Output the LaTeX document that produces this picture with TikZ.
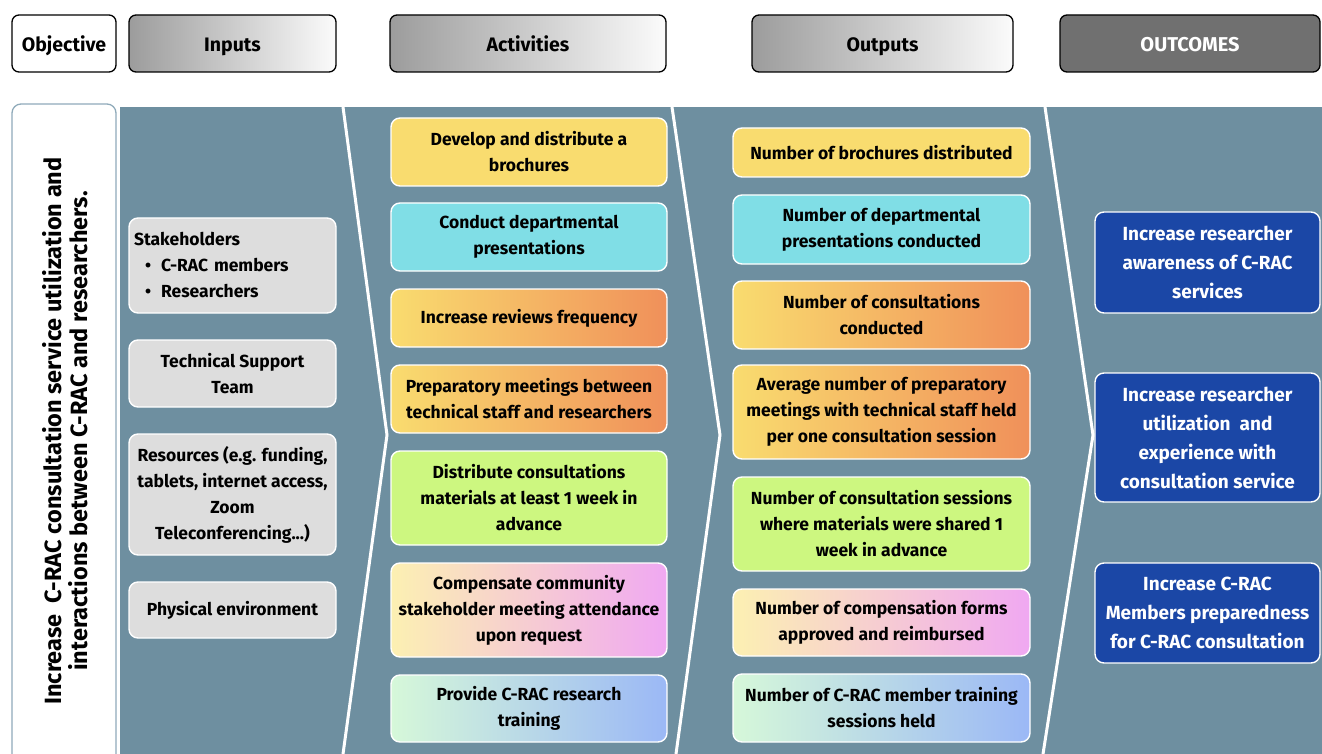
\documentclass[tikz,border=0pt]{standalone}
\usepackage{fontspec}
\setmainfont{Fira Sans}
\definecolor{panel}{HTML}{6E8FA0}
\definecolor{objline}{HTML}{8FAABA}
\definecolor{hdrL}{HTML}{9C9C9C}
\definecolor{hdrR}{HTML}{FBFBFB}
\definecolor{hdrDark}{HTML}{707070}
\definecolor{inGray}{HTML}{DDDDDD}
\definecolor{cYellow}{HTML}{F9DC6F}
\definecolor{cCyan}{HTML}{80DEE6}
\definecolor{cOrange}{HTML}{F0905A}
\definecolor{cLime}{HTML}{CDF780}
\definecolor{cPale}{HTML}{FCF0B2}
\definecolor{cPink}{HTML}{F0A8F2}
\definecolor{cMint}{HTML}{D6F8D9}
\definecolor{cBlue}{HTML}{9BB8F6}
\definecolor{outBlue}{HTML}{1B47A6}
\tikzset{
  hdr/.style={draw=black, line width=1.3pt, rounded corners=7pt,
    left color=hdrL, right color=hdrR, minimum height=57pt, inner sep=0pt,
    text height=20pt, text depth=4pt,
    font=\fontsize{19.5}{22}\selectfont\bfseries},
  card/.style={draw=white, line width=1.4pt, rounded corners=9pt, align=center,
    inner sep=0pt, text=black, font=\fontsize{17.5}{26}\selectfont\bfseries},
  inbox/.style={card, fill=inGray, minimum width=207pt},
  actbox/.style={card, minimum width=276pt},
  outbox/.style={card, minimum width=297pt},
  resbox/.style={card, fill=outBlue, text=white, minimum width=225pt,
    font=\fontsize{19}{29}\selectfont\bfseries},
  yellowbox/.style={fill=cYellow},
  cyanbox/.style={fill=cCyan},
  warmbox/.style={left color=cYellow, right color=cOrange},
  limebox/.style={fill=cLime},
  pinkbox/.style={left color=cPale, right color=cPink},
  coolbox/.style={left color=cMint, right color=cBlue},
  divider/.style={draw=white, line width=3pt, line join=miter},
}
\begin{document}
\begin{tikzpicture}[x=1pt, y=-1pt]
\useasboundingbox (0,0) rectangle (1322,754);
\fill[white] (0,0) rectangle (1322,754);

% background band and column dividers
\fill[panel] (120,107) rectangle (1322,754);
\draw[divider] (343,107) -- (387,435) -- (343,754);
\draw[divider] (672,107) -- (720,435) -- (676,754);
\draw[divider] (1045,107) -- (1093,435) -- (1043,754);

% column headers
\node[hdr, left color=white, right color=white, minimum width=104pt] (hObj) at (64,43.5) {Objective};
\node[hdr, minimum width=207pt] (hIn) at (232.5,43.5) {Inputs};
\node[hdr, minimum width=276pt] (hAct) at (528,43.5) {Activities};
\node[hdr, minimum width=261pt] (hOut) at (882.5,43.5) {Outputs};
\node[hdr, left color=hdrDark, right color=hdrDark, text=white, minimum width=260pt,
  font=\fontsize{20}{22}\selectfont\bfseries] (hRes) at (1190,43.5) {OUTCOMES};

% objective panel
\draw[objline, fill=white, line width=1.3pt, rounded corners=9pt] (12,104) rectangle (116,790);
\node[rotate=90, align=center, font=\fontsize{23.5}{26}\selectfont\bfseries] (obj) at (65,431)
  {Increase\ \ C-RAC consultation service utilization and\\interactions between C-RAC and researchers.};

% inputs
\node[inbox, minimum height=95pt, align=left, text width=197pt] (in1) at (232.5,265.5)
  {Stakeholders\\\hspace*{11pt}\textbullet\hspace{10pt}C-RAC members\\\hspace*{11pt}\textbullet\hspace{10pt}Researchers};
\node[inbox, minimum height=67pt] (in2) at (232.5,373.5) {Technical Support\\Team};
\node[inbox, minimum height=121pt] (in3) at (232.5,494.5)
  {Resources (e.g. funding,\\tablets, internet access,\\Zoom\\Teleconferencing...)};
\node[inbox, minimum height=56pt] (in4) at (232.5,610) {Physical environment};

% activities
\node[actbox, yellowbox, minimum height=68pt] (a1) at (529,152) {Develop and distribute a\\brochures};
\node[actbox, cyanbox, minimum height=68pt] (a2) at (529,237) {Conduct departmental\\presentations};
\node[actbox, warmbox, minimum height=58pt] (a3) at (529,318) {Increase reviews frequency};
\node[actbox, warmbox, minimum height=68pt] (a4) at (529,399) {Preparatory meetings between\\technical staff and researchers};
\node[actbox, limebox, minimum height=94pt] (a5) at (529,498) {Distribute consultations\\materials at least 1 week in\\advance};
\node[actbox, pinkbox, minimum height=94pt] (a6) at (529,610) {Compensate community\\stakeholder meeting attendance\\upon request};
\node[actbox, coolbox, minimum height=67pt] (a7) at (529,708.5) {Provide C-RAC research\\training};

% outputs
\node[outbox, yellowbox, minimum height=49pt] (o1) at (881.5,152.5) {Number of brochures distributed};
\node[outbox, cyanbox, minimum height=69pt] (o2) at (881.5,229.5) {Number of departmental\\presentations conducted};
\node[outbox, warmbox, minimum height=68pt] (o3) at (881.5,315) {Number of consultations\\conducted};
\node[outbox, warmbox, minimum height=94pt] (o4) at (881.5,412) {Average number of preparatory\\meetings with technical staff held\\per one consultation session};
\node[outbox, limebox, minimum height=94pt] (o5) at (881.5,524) {Number of consultation sessions\\where materials were shared 1\\week in advance};
\node[outbox, pinkbox, minimum height=67pt] (o6) at (881.5,622.5) {Number of compensation forms\\approved and reimbursed};
\node[outbox, coolbox, minimum height=68pt] (o7) at (881.5,708) {Number of C-RAC member training\\sessions held};

% outcomes
\node[resbox, minimum height=101pt] (r1) at (1207.5,262.5) {Increase researcher\\awareness of C-RAC\\services};
\node[resbox, minimum height=129pt] (r2) at (1207.5,437.5) {Increase researcher\\utilization\ \ and\\experience with\\consultation service};
\node[resbox, minimum height=100pt] (r3) at (1207.5,613) {Increase C-RAC\\Members preparedness\\for C-RAC consultation};
\end{tikzpicture}
\end{document}
